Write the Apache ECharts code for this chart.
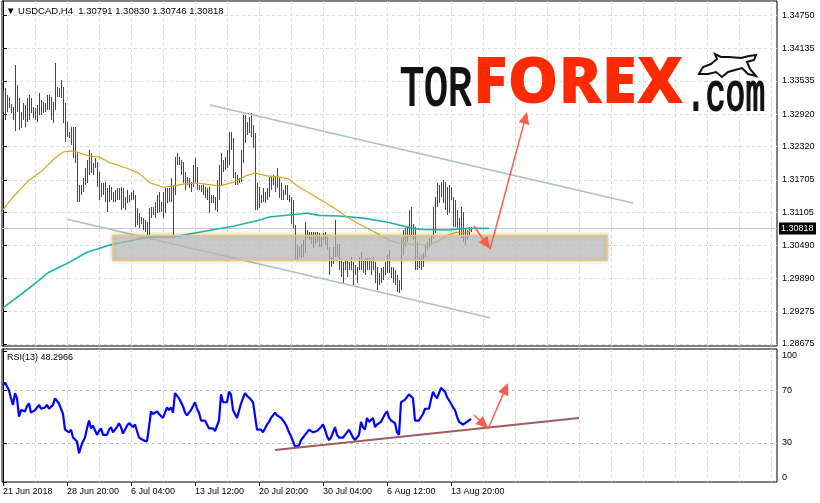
<!DOCTYPE html>
<html><head><meta charset="utf-8">
<script src="https://cdn.jsdelivr.net/npm/echarts@6/dist/echarts.min.js"></script>
<style>html,body{margin:0;padding:0;background:#fff}#c{width:820px;height:503px}</style>
</head><body><div id="c"></div>
<script>
// ---------- data ----------
const symbolName = 'USDCAD,H4';
const lastBar = [1.30791, 1.30830, 1.30746, 1.30818]; // O H L C
const rsiName = 'RSI(13)';
const rsiLast = 48.2966;
const priceTicks = [1.34750, 1.34135, 1.33535, 1.32920, 1.32320, 1.31705, 1.31105, 1.30490, 1.29890, 1.29275, 1.28675];
const rsiTicks = [0, 30, 70, 100];
const rsiLevels = [30, 70];
const timeLabels = ['21 Jun 2018', '28 Jun 20:00', '6 Jul 04:00', '13 Jul 12:00', '20 Jul 20:00', '30 Jul 04:00', '6 Aug 12:00', '13 Aug 20:00'];
const barsPerLabel = 32;

const highs = [
1.3337,1.3340,1.3327,1.3324,1.3311,1.3305,1.3383,1.3346,1.3322,1.3296,
1.3312,1.3309,1.3322,1.3327,1.3322,1.3305,1.3303,1.3309,1.3331,1.3318,
1.3314,1.3312,1.3327,1.3327,1.3324,1.3314,1.3386,1.3342,1.3340,1.3355,
1.3342,1.3312,1.3277,1.3259,1.3268,1.3268,1.3268,1.3222,1.3161,1.3161,
1.3174,1.3192,1.3207,1.3226,1.3220,1.3201,1.3211,1.3203,1.3185,1.3164,
1.3164,1.3166,1.3155,1.3161,1.3157,1.3148,1.3152,1.3155,1.3155,1.3157,
1.3155,1.3139,1.3152,1.3142,1.3148,1.3152,1.3142,1.3118,1.3109,1.3102,
1.3100,1.3096,1.3092,1.3118,1.3120,1.3120,1.3129,1.3142,1.3148,1.3129,
1.3148,1.3155,1.3155,1.3155,1.3174,1.3161,1.3213,1.3220,1.3213,1.3207,
1.3203,1.3185,1.3176,1.3174,1.3166,1.3198,1.3211,1.3194,1.3161,1.3161,
1.3161,1.3157,1.3155,1.3157,1.3142,1.3142,1.3139,1.3170,1.3198,1.3220,
1.3207,1.3213,1.3226,1.3259,1.3259,1.3248,1.3185,1.3179,1.3174,1.3226,
1.3290,1.3290,1.3277,1.3287,1.3294,1.3272,1.3257,1.3164,1.3157,1.3142,
1.3155,1.3148,1.3155,1.3176,1.3176,1.3179,1.3176,1.3192,1.3174,1.3164,
1.3152,1.3161,1.3161,1.3142,1.3139,1.3133,1.3087,1.3050,1.3046,1.3053,
1.3059,1.3092,1.3078,1.3074,1.3074,1.3074,1.3074,1.3074,1.3072,1.3065,
1.3072,1.3074,1.3065,1.3046,1.3028,1.3046,1.3096,1.3053,1.3053,1.3022,
1.3018,1.3022,1.3022,1.3018,1.3028,1.3018,1.3013,1.3009,1.3028,1.3037,
1.3022,1.3026,1.3026,1.3026,1.3022,1.3028,1.3018,1.3009,1.2998,1.3007,
1.3009,1.3018,1.3031,1.3041,1.3009,1.3009,1.3004,1.2994,1.2985,1.3063,
1.3078,1.3081,1.3083,1.3115,1.3120,1.3090,1.3083,1.3055,1.3028,1.3031,
1.3035,1.3050,1.3055,1.3063,1.3068,1.3120,1.3139,1.3164,1.3161,1.3166,
1.3170,1.3166,1.3157,1.3161,1.3157,1.3139,1.3133,1.3115,1.3100,1.3120,
1.3111,1.3081,1.3078,1.3083,1.30830];
const lows = [
1.3296,1.3281,1.3296,1.3303,1.3294,1.3281,1.3261,1.3296,1.3263,1.3266,
1.3281,1.3268,1.3277,1.3281,1.3294,1.3285,1.3281,1.3277,1.3290,1.3290,
1.3294,1.3296,1.3300,1.3300,1.3281,1.3275,1.3300,1.3324,1.3324,1.3322,
1.3275,1.3240,1.3250,1.3248,1.3235,1.3211,1.3201,1.3129,1.3129,1.3142,
1.3148,1.3161,1.3164,1.3179,1.3183,1.3179,1.3192,1.3157,1.3133,1.3139,
1.3142,1.3129,1.3111,1.3129,1.3133,1.3129,1.3129,1.3133,1.3133,1.3115,
1.3118,1.3115,1.3127,1.3129,1.3133,1.3133,1.3083,1.3087,1.3081,1.3090,
1.3078,1.3074,1.3065,1.3065,1.3100,1.3105,1.3100,1.3109,1.3111,1.3111,
1.3100,1.3109,1.3127,1.3129,1.3129,1.3063,1.3142,1.3198,1.3198,1.3179,
1.3164,1.3152,1.3161,1.3155,1.3148,1.3157,1.3166,1.3152,1.3152,1.3148,
1.3142,1.3137,1.3133,1.3109,1.3127,1.3127,1.3115,1.3111,1.3133,1.3161,
1.3185,1.3189,1.3192,1.3198,1.3226,1.3174,1.3161,1.3161,1.3164,1.3166,
1.3201,1.3238,1.3253,1.3257,1.3250,1.3229,1.3115,1.3115,1.3118,1.3127,
1.3129,1.3127,1.3133,1.3139,1.3152,1.3161,1.3148,1.3155,1.3137,1.3133,
1.3133,1.3142,1.3133,1.3129,1.3090,1.3081,1.3022,1.3022,1.3028,1.3026,
1.3028,1.3035,1.3063,1.3059,1.3053,1.3044,1.3053,1.3055,1.3046,1.3046,
1.3059,1.3050,1.3041,1.2994,1.3009,1.3016,1.3028,1.3028,1.3004,1.2991,
1.2980,1.3004,1.2991,1.3004,1.3004,1.2976,1.2994,1.2981,1.3004,1.3004,
1.2998,1.2994,1.3004,1.3004,1.2994,1.3004,1.2980,1.2967,1.2976,1.2981,
1.2985,1.2994,1.2998,1.2998,1.2989,1.2980,1.2976,1.2963,1.2961,1.2967,
1.3031,1.3046,1.3055,1.3065,1.3065,1.3059,1.3004,1.3004,1.3007,1.3004,
1.3009,1.3028,1.3041,1.3046,1.3050,1.3063,1.3072,1.3120,1.3127,1.3139,
1.3127,1.3115,1.3105,1.3109,1.3133,1.3083,1.3083,1.3081,1.3068,1.3063,
1.3055,1.3050,1.3059,1.3068,1.30746];
// D = bullish bar, R = bearish bar
const barDir =
'RDRRRDDRRD' + 'RDDDRRDDDR' + 'RRDDRDDRRD' + 'RRRDRRRRRD' + 'DDDDRDDRRR' +
'DRDDRDDRDR' + 'DRDDDRDRRR' + 'RRDDRRDDDR' + 'DDRRRDDDRR' + 'RRRRDDRDRR' +
'RRDRDRRDDD' + 'RDDDRRRDDD' + 'DDRRRRRRDD' + 'DRDDRDRRRR' + 'RRRRRDRRDD' +
'DDDRRDRRRD' + 'RRRRDDDRRD' + 'DRRDDRRRDR' + 'RDRRRDRRDD' + 'DRDDRRRRRD' +
'DDDDDRRRDR' + 'DDDDDDDDRR' + 'RRDRRRRRRR' + 'RDDDD';

const rsi = [
74,76,75,70,64,59,68,64,50,55,
54,54,58,60,53,54,55,57,59,56,
55,57,59,56,55,59,64,62,60,61,
52,40,39,38,40,34,33,31,22,27,
31,34,41,47,41,43,44,36,39,41,
36,37,36,40,42,38,40,42,45,42,
37,40,43,45,44,42,44,45,34,33,
32,32,31,42,54,52,51,54,52,51,
49,53,57,55,57,53,68,66,64,64,
58,53,51,53,55,58,61,56,53,47,
47,47,46,41,41,41,39,43,47,67,
61,61,61,69,67,55,52,49,49,60,
64,68,66,65,63,61,60,40,41,40,
38,41,44,46,49,51,53,51,50,49,
47,45,42,38,35,34,27,27,28,32,
34,36,38,40,39,38,39,39,40,42,
44,40,35,32,34,38,42,36,34,34,
34,36,38,40,37,34,32,34,36,46,
42,40,49,46,47,49,42,44,45,46,
49,52,54,49,47,46,45,38,36,61,
62,63,65,67,68,64,47,47,47,46,
52,56,57,56,63,69,66,64,68,72,
73,69,65,64,60,57,55,50,46,47,
44,45,46,47,48.2966];

// moving averages: [bar index, price]
const maFast = [[0,1.3115],[5,1.3139],[13,1.3170],[20,1.3189],[26,1.3211],[30,1.3222],[34,1.3224],[37,1.3222],[43,1.3215],[48,1.3213],[53,1.3203],[62,1.3192],[68,1.3183],[73,1.3166],[80,1.3157],[85,1.3159],[92,1.3164],[98,1.3164],[105,1.3161],[108,1.3159],[115,1.3166],[122,1.3179],[126,1.3183],[132,1.3178],[138,1.3176],[143,1.3172],[148,1.3157],[155,1.3142],[165,1.3120],[172,1.3102],[178,1.3089],[187,1.3072],[193,1.3059],[198,1.3054],[205,1.3052],[212,1.3050],[217,1.3056],[222,1.3068],[227,1.3074],[232,1.3072],[234,1.3078]];
const maSlow = [[0,1.2934],[15,1.2976],[23,1.3000],[32,1.3016],[42,1.3037],[53,1.3050],[65,1.3059],[73,1.3065],[85,1.3065],[98,1.3074],[115,1.3085],[128,1.3096],[133,1.3102],[138,1.3104],[152,1.3109],[158,1.3105],[168,1.3104],[180,1.3100],[193,1.3092],[205,1.3081],[210,1.3079],[222,1.3078],[232,1.3081],[243,1.3081]];

// analysis drawings: [bar, value]
const channelUpper = [[103.5,1.3309],[315,1.3128]];
const channelLower = [[32,1.3098],[243.5,1.2916]];
const zone = [[55,1.3068],[302,1.3022]];
const priceArrows = [[[235.5,1.3085],[243.5,1.3043]], [[243.5,1.3042],[262,1.3296]]];
const rsiTrend = [[136,24.5],[288,48.9]];
const rsiArrows = [[[235.5,51.2],[242.5,41.1]], [[242.5,40.5],[252.5,75.7]]];

// ---------- build ----------
const FONT = '"Liberation Sans", Arial, sans-serif';
const gridDash = { color: '#dadada', type: [3, 3], width: 1 };
const vGrid = []; for (let k = 16; k <= 384; k += 16) vGrid.push(k);
const labelPos = timeLabels.map((_, i) => i * barsPerLabel);
const UP_COLOR = '#2f4f4f', DOWN_COLOR = '#f00000';

const barData = highs.map((h, i) => ({
  value: [i, h, lows[i]],
  itemStyle: { color: barDir[i] === 'D' ? UP_COLOR : DOWN_COLOR }
}));
const rsiData = rsi.map((v, i) => [i, v]);

function segSeries(name, segs, color, width, arrow, xi, yi, z) {
  return {
    type: 'custom', name, xAxisIndex: xi, yAxisIndex: yi, z, silent: true,
    encode: { x: [0, 2], y: [1, 3] },
    data: segs.map(s => [s[0][0], s[0][1], s[1][0], s[1][1]]),
    renderItem(params, api) {
      const p1 = api.coord([api.value(0), api.value(1)]);
      const p2 = api.coord([api.value(2), api.value(3)]);
      const ch = [];
      if (arrow) {
        const dx = p2[0] - p1[0], dy = p2[1] - p1[1], L = Math.hypot(dx, dy), ux = dx / L, uy = dy / L;
        const hl = 12, hw = 5.5;
        const bx = p2[0] - ux * hl, by = p2[1] - uy * hl;
        ch.push({ type: 'line', shape: { x1: p1[0], y1: p1[1], x2: bx + ux * 2, y2: by + uy * 2 }, style: { stroke: color, lineWidth: width } });
        ch.push({ type: 'polygon', shape: { points: [[p2[0], p2[1]], [bx - uy * hw, by + ux * hw], [bx + uy * hw, by - ux * hw]] }, style: { fill: color } });
      } else {
        ch.push({ type: 'line', shape: { x1: p1[0], y1: p1[1], x2: p2[0], y2: p2[1] }, style: { stroke: color, lineWidth: width } });
      }
      return { type: 'group', children: ch };
    }
  };
}

const chart = echarts.init(document.getElementById('c'), null, { renderer: 'canvas' });
chart.setOption({
  animation: false,
  backgroundColor: '#fff',
  textStyle: { fontFamily: FONT },
  grid: [
    { left: 2, right: 43, top: 1, height: 345, show: true, borderColor: '#000', borderWidth: 1, backgroundColor: '#fff' },
    { left: 2, right: 43, top: 349, height: 133, show: true, borderColor: '#000', borderWidth: 1, backgroundColor: '#fff' }
  ],
  xAxis: [
    { gridIndex: 0, type: 'value', min: -0.5, max: 387, axisLine: { show: false }, axisTick: { show: false, customValues: vGrid }, axisLabel: { show: false }, splitLine: { show: true, lineStyle: gridDash } },
    { gridIndex: 1, type: 'value', min: -0.5, max: 387, position: 'bottom', axisLine: { show: false },
      axisTick: { show: true, length: 4, customValues: labelPos, lineStyle: { color: '#000' } },
      axisLabel: { customValues: labelPos, formatter: v => timeLabels[Math.round(v / barsPerLabel)] || '', align: 'left', margin: 5, fontSize: 9, color: '#000', fontFamily: FONT },
      splitLine: { show: false } },
    { gridIndex: 1, type: 'value', min: -0.5, max: 387, axisLine: { show: false }, axisTick: { show: false, customValues: vGrid }, axisLabel: { show: false }, splitLine: { show: true, lineStyle: gridDash } }
  ],
  yAxis: [
    { gridIndex: 0, type: 'value', position: 'right', min: 1.28638, max: 1.35009,
      axisLine: { show: true, lineStyle: { color: '#000' } },
      axisTick: { show: true, length: 4, customValues: priceTicks, lineStyle: { color: '#000' } },
      axisLabel: { customValues: priceTicks, formatter: v => v.toFixed(5), margin: 5, fontSize: 9, color: '#000', fontFamily: FONT },
      splitLine: { show: true, lineStyle: gridDash } },
    { gridIndex: 1, type: 'value', position: 'right', min: 0, max: 101.7,
      axisLine: { show: true, lineStyle: { color: '#000' } },
      axisTick: { show: true, length: 4, customValues: rsiTicks, lineStyle: { color: '#000' } },
      axisLabel: { customValues: rsiTicks, formatter: v => String(v), margin: 5, fontSize: 9, color: '#000', fontFamily: FONT, verticalAlignMinLabel: 'bottom', verticalAlignMaxLabel: 'top' },
      splitLine: { show: false } },
    { gridIndex: 1, type: 'value', position: 'right', min: 0, max: 101.7,
      axisLine: { show: false }, axisTick: { show: false, customValues: rsiLevels }, axisLabel: { show: false },
      splitLine: { show: true, lineStyle: { color: '#bdbdbd', type: [3, 3], width: 1 } } }
  ],
  series: [
    { type: 'custom', name: 'last price', xAxisIndex: 0, yAxisIndex: 0, z: 1, silent: true, clip: false,
      encode: { x: 0, y: 1 }, data: [[0, lastBar[3]]],
      renderItem(params, api) {
        const cs = params.coordSys;
        const y = Math.round(api.coord([api.value(0), api.value(1)])[1]) + 0.5;
        const xr = cs.x + cs.width;
        return { type: 'group', children: [
          { type: 'line', shape: { x1: cs.x, y1: y, x2: xr, y2: y }, style: { stroke: '#c8c8c8', lineWidth: 1 } },
          { type: 'rect', z2: 10, shape: { x: xr + 2, y: y - 6, width: 37, height: 12 }, style: { fill: '#000' } },
          { type: 'text', z2: 11, style: { text: lastBar[3].toFixed(5), x: xr + 4, y: y, fill: '#fff', fontSize: 9, fontFamily: FONT, verticalAlign: 'middle' } }
        ] };
      } },
    { type: 'custom', name: 'bars', xAxisIndex: 0, yAxisIndex: 0, z: 2, silent: true,
      encode: { x: 0, y: [1, 2] }, data: barData,
      renderItem(params, api) {
        const a = api.coord([api.value(0), api.value(1)]);
        const b = api.coord([api.value(0), api.value(2)]);
        const y0 = Math.round(a[1]);
        return { type: 'rect', shape: { x: Math.floor(a[0]), y: y0, width: 1, height: Math.max(1, Math.round(b[1]) - y0) },
          style: { fill: api.visual('color') } };
      } },
    { type: 'line', name: 'MA slow', xAxisIndex: 0, yAxisIndex: 0, z: 3, silent: true, data: maSlow, symbol: 'none', lineStyle: { color: '#20b2aa', width: 1.6 } },
    { type: 'line', name: 'MA fast', xAxisIndex: 0, yAxisIndex: 0, z: 3, silent: true, data: maFast, symbol: 'none', lineStyle: { color: '#daa520', width: 1.2 } },
    segSeries('channel', [channelUpper, channelLower], '#abbfce', 1.6, false, 0, 0, 3),
    { type: 'custom', name: 'zone', xAxisIndex: 0, yAxisIndex: 0, z: 4, silent: true,
      encode: { x: [0, 2], y: [1, 3] }, data: [[zone[0][0], zone[0][1], zone[1][0], zone[1][1]]],
      renderItem(params, api) {
        const a = api.coord([api.value(0), api.value(1)]);
        const b = api.coord([api.value(2), api.value(3)]);
        return { type: 'rect', shape: { x: Math.min(a[0], b[0]), y: Math.min(a[1], b[1]), width: Math.abs(b[0] - a[0]), height: Math.abs(b[1] - a[1]) },
          style: { fill: 'rgba(196,196,196,0.66)', stroke: '#f1c56b', lineWidth: 1.5, shadowBlur: 5, shadowColor: 'rgba(0,0,0,0.25)' } };
      } },
    segSeries('priceArrows', priceArrows, '#fb5d50', 1.5, true, 0, 0, 5),
    { type: 'line', name: 'RSI', xAxisIndex: 1, yAxisIndex: 1, z: 3, silent: true, data: rsiData, symbol: 'none', lineStyle: { color: '#0000ff', width: 2.2 } },
    segSeries('rsiTrend', [rsiTrend], '#a35c5b', 2, false, 1, 1, 4),
    segSeries('rsiArrows', rsiArrows, '#fb5d50', 1.5, true, 1, 1, 5)
  ],
  graphic: [
    { type: 'text', x: 6, y: 11, z: 20, style: { text: '▼ ' + symbolName + '  ' + lastBar.map(v => v.toFixed(5)).join(' '), fontFamily: FONT, fontSize: 9.5, fill: '#000', verticalAlign: 'middle' } },
    { type: 'text', x: 7, y: 358, z: 20, style: { text: rsiName + ' ' + rsiLast.toFixed(4), fontFamily: FONT, fontSize: 9, fill: '#000', verticalAlign: 'middle' } },
    { type: 'text', x: 400, y: 90, scaleY: 1.4, z: 20, style: { text: 'TOR', fontFamily: '"Liberation Mono", monospace', fontWeight: 'normal', fontSize: 40, fill: '#111', stroke: '#111', lineWidth: 1.4, verticalAlign: 'middle' } },
    { type: 'text', x: 473, y: 85, z: 20, style: { text: 'FOREX', fontFamily: '"Open Sans", "Liberation Sans", sans-serif', fontWeight: 800, fontSize: 64, fill: '#ff2a00', verticalAlign: 'middle' } },
    { type: 'text', x: 686, y: 96, scaleY: 1.55, z: 20, style: { text: '.com', fontFamily: '"Liberation Mono", monospace', fontWeight: 'normal', fontSize: 33, fill: '#111', stroke: '#111', lineWidth: 1.2, verticalAlign: 'middle' } },
    { type: 'polygon', z: 20, shape: { points: [[699,74],[703,67],[711,64],[717,59],[715,54],[721,57],[729,57],[741,58],[749,56],[756,55],[754,60],[747,62],[750,69],[756,76],[748,74],[742,68],[735,70],[728,72],[722,77],[716,72],[708,74]] },
      style: { fill: '#fff', stroke: '#111', lineWidth: 2 } }
  ]
});
</script></body></html>
